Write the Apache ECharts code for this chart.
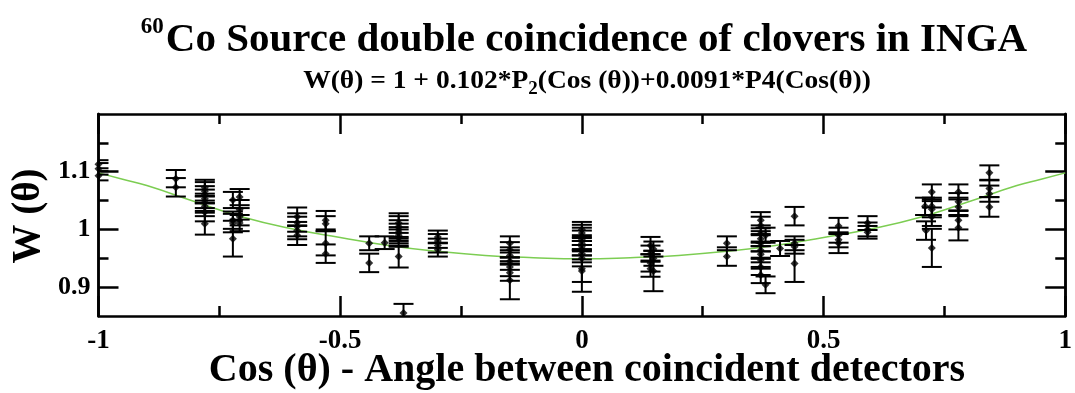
<!DOCTYPE html>
<html><head><meta charset="utf-8">
<script src="https://cdn.jsdelivr.net/npm/echarts@6/dist/echarts.min.js"></script>
<style>html,body{margin:0;padding:0;background:#fff}#c{width:1075px;height:393px}</style>
</head><body><div id="c"></div>
<script>
// measured points: cos(theta), W(theta), error
const cosTheta = [
 -1,-1,-1,
 -0.84,-0.84,
 -0.78,-0.78,-0.78,-0.78,-0.78,-0.78,-0.78,-0.78,
 -0.722,-0.722,-0.722,-0.722,-0.708,-0.708,-0.708,-0.708,
 -0.589,-0.589,-0.589,-0.589,-0.589,
 -0.53,-0.53,-0.53,-0.53,
 -0.44,-0.44,
 -0.408,
 -0.379,-0.379,-0.379,-0.379,-0.379,-0.379,-0.379,-0.369,
 -0.298,-0.298,-0.298,-0.298,
 -0.149,-0.149,-0.149,-0.149,-0.149,-0.149,-0.149,
 0,0,0,0,0,0,0,0,0,0,0,
 0.142,0.148,0.142,0.148,0.142,0.142,0.148,
 0.3,0.3,
 0.37,0.37,0.37,0.37,0.37,0.37,0.37,0.37,0.37,0.37,0.38,0.38,
 0.41,
 0.44,0.44,0.44,0.44,
 0.531,0.531,0.531,0.531,
 0.591,0.591,0.591,
 0.724,0.724,0.724,0.724,0.724,0.71,0.712,
 0.779,0.779,0.779,0.779,0.779,
 0.843,0.843,0.843,0.843
];
const wValue = [
 1.113,1.105,1.093,
 1.088,1.073,
 1.072,1.066,1.06,1.053,1.047,1.04,1.03,1.01,
 1.051,1.016,1.011,0.984,1.056,1.034,1.022,1.011,
 1.022,1.012,1.005,0.998,0.99,
 1.016,1.01,0.976,0.958,
 0.976,0.942,
 0.977,
 1.011,1.005,1.0,0.995,0.99,0.985,0.953,0.855,
 0.987,0.98,0.972,0.965,
 0.976,0.965,0.955,0.945,0.935,0.925,0.912,
 1.0,0.994,0.988,0.982,0.976,0.97,0.964,0.958,0.95,0.932,0.928,
 0.972,0.966,0.958,0.95,0.942,0.932,0.928,
 0.976,0.953,
 1.016,1.007,0.993,0.984,0.976,0.964,0.957,0.947,0.935,0.921,0.99,0.904,
 0.967,
 1.023,0.976,0.97,0.941,
 1.006,0.99,0.982,0.976,
 1.011,1.0,0.995,
 1.065,1.04,1.035,1.022,0.968,1.04,0.998,
 1.065,1.048,1.039,1.016,1.003,
 1.098,1.071,1.062,1.039
];
const wError = [
 0.007,0.01,0.008,
 0.015,0.016,
 0.014,0.016,0.015,0.016,0.015,0.017,0.016,0.019,
 0.014,0.015,0.016,0.031,0.014,0.017,0.015,0.014,
 0.016,0.016,0.017,0.015,0.017,
 0.016,0.013,0.021,0.016,
 0.012,0.016,
 0.011,
 0.017,0.018,0.016,0.015,0.014,0.015,0.019,0.016,
 0.011,0.012,0.012,0.012,
 0.012,0.013,0.014,0.015,0.016,0.014,0.033,
 0.013,0.014,0.015,0.016,0.014,0.015,0.016,0.015,0.014,0.023,0.036,
 0.015,0.013,0.014,0.013,0.015,0.014,0.035,
 0.012,0.016,
 0.014,0.015,0.014,0.013,0.014,0.013,0.014,0.015,0.014,0.014,0.013,0.0145,
 0.013,
 0.016,0.012,0.012,0.032,
 0.014,0.013,0.013,0.017,
 0.012,0.012,0.011,
 0.013,0.015,0.014,0.016,0.033,0.015,0.016,
 0.013,0.015,0.016,0.016,0.022,
 0.013,0.015,0.014,0.017
];
// fitted curve
const curveCos = [-1,-0.95,-0.9,-0.8,-0.7,-0.6,-0.5,-0.4,-0.3,-0.2,-0.1,0,0.1,0.2,0.3,0.4,0.5,0.6,0.7,0.8,0.9,0.95,1];
const curveW = [1.098,1.087,1.076,1.048,1.021,1.001,0.986,0.972,0.962,0.955,0.951,0.949,0.951,0.955,0.962,0.972,0.986,1.001,1.021,1.048,1.076,1.087,1.098];
const yMajorTicks = [0.9, 1, 1.1];
const yMinorTicks = [0.95, 1.05, 1.15];

const FONT = '"Liberation Serif", "Times New Roman", serif';
const points = cosTheta.map((c, i) => [c, wValue[i], wError[i]]);
const curve = curveCos.map((c, i) => [c, curveW[i]]);

const chart = echarts.init(document.getElementById('c'), null, {renderer: 'canvas'});
const lineSt = {color: '#000', width: 2.5};
function xAx(pos, showLabel) {
  return {
    type: 'value', min: -1, max: 1, interval: 0.5, position: pos,
    axisLine: {show: true, lineStyle: lineSt},
    axisTick: {show: true, inside: true, length: 20, lineStyle: lineSt},
    minorTick: {show: true, splitNumber: 2, length: 10, lineStyle: lineSt},
    splitLine: {show: false}, minorSplitLine: {show: false},
    axisLabel: {show: showLabel, showMinLabel: true, showMaxLabel: true, margin: 12,
      fontFamily: FONT, fontWeight: 'bold', fontSize: 27, color: '#000'}
  };
}
function yAx(pos, ticks, len, showLabel) {
  return {
    type: 'value', min: 0.85, max: 1.2, position: pos,
    axisLine: {show: true, onZero: false, lineStyle: lineSt},
    axisTick: {show: true, inside: true, length: len, customValues: ticks, lineStyle: lineSt},
    splitLine: {show: false},
    axisLabel: {show: showLabel, customValues: ticks, margin: 8, padding: [7, 0, 0, 0],
      fontFamily: FONT, fontWeight: 'bold', fontSize: 26, color: '#000'}
  };
}

chart.setOption({
  animation: false,
  backgroundColor: '#fff',
  grid: {left: 98.5, right: 5.5, top: 114, bottom: 77, containLabel: false},
  xAxis: [xAx('bottom', true), xAx('top', false)],
  yAxis: [yAx('left', yMajorTicks, 20, true), yAx('left', yMinorTicks, 10, false),
          yAx('right', yMajorTicks, 20, false), yAx('right', yMinorTicks, 10, false)],
  series: [
    {
      type: 'line', data: curve, smooth: true, showSymbol: false, z: 1,
      lineStyle: {color: '#7ccd52', width: 1.5}, clip: true
    },
    {
      type: 'custom', data: points, clip: true, z: 2,
      encode: {x: 0, y: 1},
      renderItem: function (params, api) {
        const x = api.value(0), y = api.value(1), e = api.value(2);
        const hi = api.coord([x, y + e]), lo = api.coord([x, y - e]);
        const hw = 10;
        const st = {stroke: '#000', lineWidth: 2};
        return {type: 'group', children: [
          {type: 'line', shape: {x1: hi[0], y1: hi[1], x2: lo[0], y2: lo[1]}, style: st},
          {type: 'line', shape: {x1: hi[0] - hw, y1: hi[1], x2: hi[0] + hw, y2: hi[1]}, style: st},
          {type: 'line', shape: {x1: lo[0] - hw, y1: lo[1], x2: lo[0] + hw, y2: lo[1]}, style: st}
        ]};
      }
    },
    {
      type: 'scatter', data: points.map(p => [p[0], p[1]]), symbol: 'diamond', symbolSize: 8,
      itemStyle: {color: '#000'}, z: 3, clip: true
    }
  ],
  graphic: [
    {type: 'text', x: 584, y: 40, scaleY: 1.0, style: {
      text: '{sup|60}{main|Co Source double coincidence of clovers in INGA}',
      align: 'center', verticalAlign: 'middle', fill: '#000',
      fontFamily: FONT, fontWeight: 'bold', fontSize: 40,
      rich: {
        sup: {fontFamily: FONT, fontWeight: 'bold', fontSize: 23, padding: [0, 2, 26, 0], fill: '#000'},
        main: {fontFamily: FONT, fontWeight: 'bold', fontSize: 41, lineHeight: 52, fill: '#000'}
      }}},
    {type: 'text', x: 587, y: 81, scaleY: 0.95, style: {
      text: '{m|W(θ) = 1 + 0.102*P}{sub|2}{m|(Cos (θ))+0.0091*P4(Cos(θ))}',
      align: 'center', verticalAlign: 'middle', fill: '#000',
      fontFamily: FONT, fontWeight: 'bold', fontSize: 27.5,
      rich: {
        m: {fontFamily: FONT, fontWeight: 'bold', fontSize: 27.5, lineHeight: 36, fill: '#000'},
        sub: {fontFamily: FONT, fontWeight: 'bold', fontSize: 19, padding: [18, 0, 0, 0], fill: '#000'}
      }}},
    {type: 'text', x: 587, y: 371, style: {
      text: 'Cos (θ) - Angle between coincident detectors',
      align: 'center', verticalAlign: 'middle', fill: '#000',
      fontFamily: FONT, fontWeight: 'bold', fontSize: 40}},
    {type: 'text', x: 28, y: 216, rotation: Math.PI / 2, scaleX: 0.95, style: {
      text: 'W (θ)',
      align: 'center', verticalAlign: 'middle', fill: '#000',
      fontFamily: FONT, fontWeight: 'bold', fontSize: 41}}
  ]
});
</script>
</body></html>
